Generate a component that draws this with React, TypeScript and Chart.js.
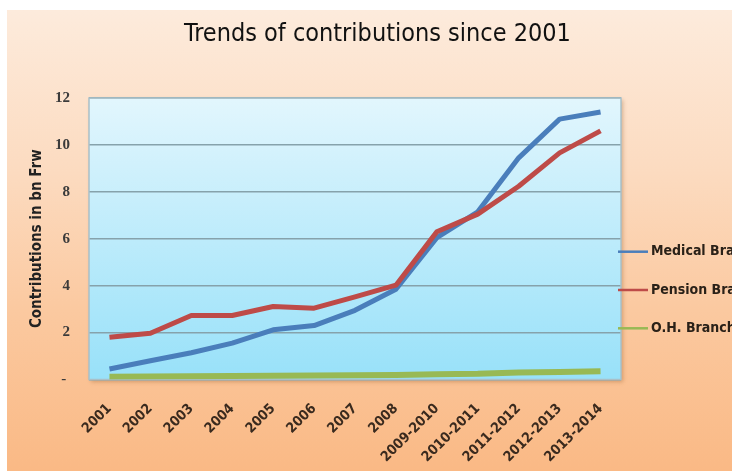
import React, { useEffect, useRef } from 'react';
import { Chart, registerables } from 'chart.js';

Chart.register(...registerables);

const categories = [
  '2001', '2002', '2003', '2004', '2005', '2006', '2007', '2008',
  '2009-2010', '2010-2011', '2011-2012', '2012-2013', '2013-2014',
];
const medicalBranch = [0.45, 0.8, 1.14, 1.55, 2.12, 2.3, 2.95, 3.85, 6.05, 7.15, 9.45, 11.1, 11.4];
const pensionBranch = [1.8, 1.97, 2.73, 2.73, 3.11, 3.04, 3.52, 4.02, 6.3, 7.05, 8.24, 9.66, 10.6];
const ohBranch = [0.12, 0.13, 0.14, 0.15, 0.16, 0.17, 0.18, 0.19, 0.22, 0.24, 0.3, 0.32, 0.35];
const seriesNames = ['Medical Branch', 'Pension Branch', 'O.H. Branch'];
const seriesColors = ['#4A7EBB', '#BE4B48', '#98B954'];
const titleText = 'Trends of contributions since 2001';
const yAxisTitle = 'Contributions in bn Frw';
const yMin = 0;
const yMax = 12;
const yStep = 2;

const COND = "'DejaVu Sans Condensed', 'Liberation Sans Narrow', 'DejaVu Sans', sans-serif";

const plotBgPlugin = {
  id: 'plotBg',
  beforeDraw(chart: any) {
    const { ctx, chartArea: a } = chart;
    ctx.save();
    ctx.shadowColor = 'rgba(140,80,30,0.35)';
    ctx.shadowBlur = 4;
    ctx.shadowOffsetX = 2;
    ctx.shadowOffsetY = 2;
    const g = ctx.createLinearGradient(0, a.top, 0, a.bottom);
    g.addColorStop(0, '#E2F6FD');
    g.addColorStop(1, '#98E1F9');
    ctx.fillStyle = g;
    ctx.fillRect(a.left, a.top, a.right - a.left, a.bottom - a.top);
    ctx.restore();
  },
  beforeDatasetsDraw(chart: any) {
    const { ctx, chartArea: a } = chart;
    ctx.save();
    ctx.strokeStyle = '#A9C0C8';
    ctx.lineWidth = 1.5;
    ctx.strokeRect(a.left, a.top, a.right - a.left, a.bottom - a.top);
    ctx.restore();
  },
};

const sideLegendPlugin = {
  id: 'sideLegend',
  afterDraw(chart: any, _args: any, opts: any) {
    const { ctx, chartArea: a } = chart;
    ctx.save();
    chart.data.datasets.forEach((ds: any, i: number) => {
      const y = a.top + opts.firstOffset + i * opts.spacing;
      const x0 = a.right + opts.lineStart;
      ctx.strokeStyle = ds.borderColor;
      ctx.lineWidth = 2.5;
      ctx.beginPath();
      ctx.moveTo(x0, y);
      ctx.lineTo(x0 + opts.lineLength, y);
      ctx.stroke();
      ctx.fillStyle = opts.color;
      ctx.font = `bold ${opts.fontSize}px ${COND}`;
      ctx.textBaseline = 'middle';
      ctx.textAlign = 'left';
      ctx.fillText(ds.label, x0 + opts.lineLength + opts.gap, y);
    });
    ctx.restore();
  },
};

export default function App() {
  const canvasRef = useRef<HTMLCanvasElement | null>(null);

  useEffect(() => {
    if (!canvasRef.current) return;
    const seriesValues = [medicalBranch, pensionBranch, ohBranch];
    const drawOrder = [1, 0, 2];
    const widths = [5, 5, 6];
    const chart = new Chart(canvasRef.current, {
      type: 'line',
      data: {
        labels: categories,
        datasets: seriesValues.map((vals, i) => ({
          label: seriesNames[i],
          data: vals,
          borderColor: seriesColors[i],
          backgroundColor: seriesColors[i],
          borderWidth: widths[i],
          pointRadius: 0,
          pointHoverRadius: 0,
          tension: 0,
          borderJoinStyle: 'round' as const,
          fill: false,
          order: drawOrder[i],
          yAxisID: 'y',
        })),
      },
      options: {
        animation: false,
        responsive: false,
        maintainAspectRatio: false,
        layout: { padding: 0 },
        plugins: {
          legend: { display: false },
          tooltip: { enabled: false },
          title: {
            display: true,
            text: titleText,
            color: '#111111',
            font: { family: COND, size: 25, weight: 'normal' },
            padding: { top: 9.5, bottom: 48.5 },
          },
          sideLegend: {
            firstOffset: 153.7,
            spacing: 38.3,
            lineStart: -3,
            lineLength: 30,
            gap: 3,
            fontSize: 14,
            color: '#2A2118',
          },
        } as any,
        scales: {
          x: {
            type: 'category',
            offset: true,
            grid: { display: false },
            border: { display: false },
            ticks: {
              autoSkip: false,
              minRotation: 45,
              maxRotation: 45,
              padding: 13,
              color: '#3A2A1E',
              font: { family: COND, size: 14, weight: 'bold' },
            },
            afterFit: (s: any) => {
              s.height = 91.5;
            },
          },
          y: {
            type: 'linear',
            position: 'left',
            min: yMin,
            max: yMax,
            grid: { color: '#86A2AB', lineWidth: 1.6, drawTicks: false },
            border: { display: false },
            ticks: {
              stepSize: yStep,
              padding: 19,
              color: '#3B3B3B',
              font: { family: "'Liberation Serif', serif", size: 15, weight: 'bold' },
              callback: (v: any) => (Number(v) === 0 ? '- ' : String(v)),
            },
            title: {
              display: true,
              text: yAxisTitle,
              color: '#222222',
              font: { family: COND, size: 15, weight: 'bold' },
              padding: { top: 21, bottom: 0 },
            },
            afterFit: (s: any) => {
              s.width = 82;
            },
          },
          y2: {
            type: 'linear',
            position: 'right',
            display: true,
            grid: { display: false },
            border: { display: false },
            ticks: { display: false },
            afterFit: (s: any) => {
              s.width = 127;
            },
          },
        },
      },
      plugins: [plotBgPlugin, sideLegendPlugin],
    });
    return () => chart.destroy();
  }, []);

  return (
    <div
      style={{
        position: 'fixed',
        left: 7,
        top: 10,
        width: 725,
        height: 461,
        overflow: 'hidden',
        background:
          'linear-gradient(180deg, #FDEBDC 0%, #FCDBC0 35%, #FBC9A0 65%, #FAB985 100%)',
      }}
    >
      <canvas ref={canvasRef} width={741} height={461} style={{ display: 'block' }} />
    </div>
  );
}
